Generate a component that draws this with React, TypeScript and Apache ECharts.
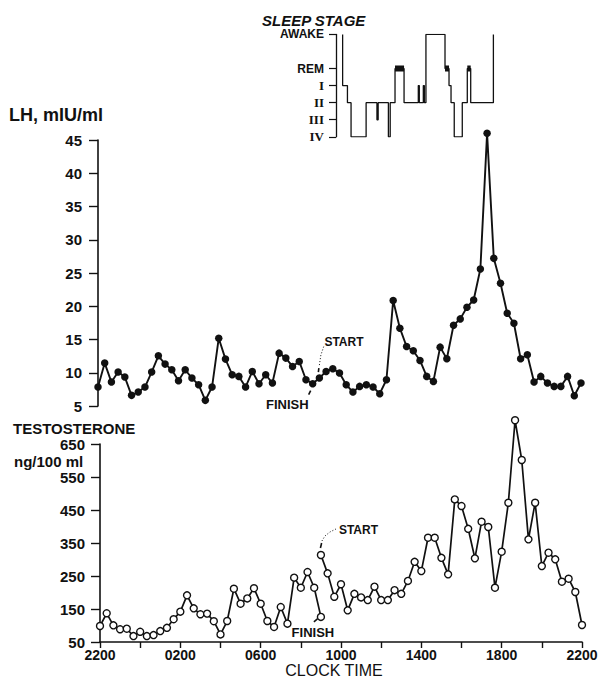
import { useEffect, useRef } from "react";
import * as echarts from "echarts";

const INK = "#111";
const SANS = "'Liberation Sans', Arial, sans-serif";
const SERIF = "'Liberation Serif', 'DejaVu Serif', serif";

// Hours after 2200; samples every 20 min
const SAMPLE_STEP_H = 1 / 3;
const xTickLabels = ["2200", "", "0200", "", "0600", "", "1000", "", "1400", "", "1800", "", "2200"];

// LH (mIU/ml), 73 samples 2200 -> 2200
const lhValues = [
  7.85, 11.45, 8.6, 10.1, 9.35, 6.6, 7.1, 7.85, 10.1, 12.55,
  11.3, 10.45, 8.8, 10.45, 9.2, 8.2, 5.85, 7.85, 15.2, 12.05,
  9.7, 9.45, 7.85, 10.2, 8.35, 9.7, 8.45, 12.95, 12.2, 10.95,
  11.7, 8.95, 8.35, 9.2, 10.2, 10.6, 9.95, 8.2, 7.1, 7.95,
  8.2, 7.85, 6.85, 8.95, 20.85, 16.7, 13.95, 13.3, 11.85, 9.45,
  8.7, 13.85, 12.1, 17.15, 18.1, 19.85, 20.95, 25.6, 46, 27.2,
  23.45, 18.95, 17.45, 12.1, 12.7, 8.6, 9.45, 8.45, 7.95, 7.95,
  9.45, 6.55, 8.45,
];
const lhStartIndex = 33;
const lhFinishIndex = 32;

// Testosterone (ng/100 ml): until FINISH (samples 0..33), from START (samples 33..72)
const tFinishPart = [
  98.5, 137, 100.6, 88.5, 90.3, 68, 81, 68, 71, 83,
  93, 119, 142, 191.5, 152, 134, 136, 113, 73, 113.6,
  211.5, 166, 182, 213, 166, 113.6, 95.5, 156, 105.5, 245,
  214.5, 262, 214.5, 126,
];
const tStartIndex = 33;
const tStartPart = [
  313.6, 258, 187, 225, 146, 196, 185, 177, 217.6, 177,
  177, 207, 196, 235, 293, 265, 366, 366, 305, 255,
  482, 462, 393, 303.6, 414.5, 398.5, 214.5, 323.6, 472, 722,
  601.5, 361, 472, 280, 320.6, 300.5, 232.7, 241.8, 201.5, 101.5,
];

// Sleep stages: stage that begins at each time (hours after 2200)
const stageLabels = ["IV", "III", "II", "I", "REM", "", "AWAKE"];
const sleepTimes = [12.13, 12.13, 12.37, 12.55, 13.3, 13.84, 13.9, 14.41, 14.5, 14.74, 15.19, 15.9, 15.95, 16.15, 16.2, 16.28, 17.23, 17.43, 17.53, 17.69, 18.09, 18.34, 18.51, 19.64];
const sleepStages = [6, 3, 2, 0, 2, 1, 2, 0, 2, 4, 2, 3, 2, 3, 2, 6, 4, 3, 2, 0, 2, 4, 2, 6];
const remSegments = [[14.74, 15.19], [17.23, 17.43], [18.34, 18.51]];

export default function App() {
  const ref = useRef<HTMLDivElement>(null);
  useEffect(() => {
    if (!ref.current) return;
    const chart = echarts.init(ref.current, null, { renderer: "svg" });
    const lhData = lhValues.map((v, i) => [i * SAMPLE_STEP_H, v]);
    const tA = tFinishPart.map((v, i) => [i * SAMPLE_STEP_H, v]);
    const tB = tStartPart.map((v, i) => [(tStartIndex + i) * SAMPLE_STEP_H, v]);
    // explicit hypnogram steps: hold previous stage until the change time, then jump
    const sleepData: number[][] = [];
    sleepTimes.forEach((t, i) => {
      if (i > 0) sleepData.push([t, sleepStages[i - 1]]);
      sleepData.push([t, sleepStages[i]]);
    });

    const axisLabelStyle = { color: INK, fontFamily: SANS, fontWeight: "bold" as const, fontSize: 15, lineHeight: 12 };

    const option: any = {
      animation: false,
      backgroundColor: "#fff",
      grid: [
        { left: 336, top: 34.4, width: 160, height: 102.4 },
        { left: 98, top: 140, width: 483, height: 266 },
        { left: 100, top: 444, width: 482, height: 198 },
      ],
      xAxis: [
        { gridIndex: 0, type: "value", min: 11.8, max: 19.77, show: false },
        { gridIndex: 1, type: "value", min: 0, max: 24, show: false },
        {
          gridIndex: 2, type: "value", min: 0, max: 24, interval: 2,
          axisLine: { show: true, lineStyle: { color: INK, width: 1.6 } },
          axisTick: { show: true, length: 6, lineStyle: { color: INK, width: 1.4 } },
          splitLine: { show: false },
          axisLabel: {
            ...axisLabelStyle, fontSize: 14, margin: 7, showMinLabel: true, showMaxLabel: true,
            formatter: (v: number) => xTickLabels[Math.round(v / 2)] ?? "",
          },
        },
      ],
      yAxis: [
        {
          gridIndex: 0, type: "category", data: stageLabels, boundaryGap: false,
          axisLine: { show: true, lineStyle: { color: INK, width: 1.3 } },
          axisTick: { show: true, length: 7, interval: (_i: number, v: string) => v !== "", lineStyle: { color: INK, width: 1.2 } },
          splitLine: { show: false },
          axisLabel: {
            interval: 0, margin: 12, color: INK,
            formatter: (v: string) => (v === "" ? "" : v === "AWAKE" || v === "REM" ? `{s|${v}}` : `{r|${v}}`),
            rich: {
              s: { fontFamily: SANS, fontWeight: "bold", fontSize: 12, color: INK },
              r: { fontFamily: SERIF, fontWeight: "bold", fontSize: 13, color: INK },
            },
          },
        },
        {
          gridIndex: 1, type: "value", min: 5, max: 45, interval: 5,
          axisLine: { show: true, lineStyle: { color: INK, width: 1.6 } },
          axisTick: { show: true, length: 9, lineStyle: { color: INK, width: 1.4 } },
          splitLine: { show: false },
          axisLabel: { ...axisLabelStyle, margin: 16, showMinLabel: true, showMaxLabel: true },
        },
        {
          gridIndex: 2, type: "value", min: 50, max: 650, interval: 100,
          axisLine: { show: true, lineStyle: { color: INK, width: 1.6 } },
          axisTick: { show: true, length: 9, lineStyle: { color: INK, width: 1.4 } },
          splitLine: { show: false },
          axisLabel: { ...axisLabelStyle, margin: 15, showMinLabel: true, showMaxLabel: true },
        },
      ],
      series: [
        {
          type: "line", xAxisIndex: 0, yAxisIndex: 0, data: sleepData,
          symbol: "none", lineStyle: { color: INK, width: 1.3 }, clip: false,
        },
        ...remSegments.map((seg) => ({
          type: "line", xAxisIndex: 0, yAxisIndex: 0, data: [[seg[0], 4], [seg[1], 4]],
          symbol: "none", lineStyle: { color: INK, width: 6 }, clip: false,
        })),
        {
          type: "line", xAxisIndex: 1, yAxisIndex: 1, data: lhData, clip: false,
          symbol: "circle", symbolSize: 7.5, itemStyle: { color: INK },
          lineStyle: { color: INK, width: 1.9 },
        },
        ...[tA, tB].map((d) => ({
          type: "line", xAxisIndex: 2, yAxisIndex: 2, data: d, clip: false,
          symbol: "circle", symbolSize: 7, itemStyle: { color: "#fff", borderColor: INK, borderWidth: 1.4 },
          lineStyle: { color: INK, width: 1.7 },
        })),
      ],
    };
    chart.setOption(option);

    const px = (g: number, x: number, y: number) =>
      chart.convertToPixel({ xAxisIndex: g, yAxisIndex: g }, [x, y]) as number[];
    const lhS = px(1, lhStartIndex * SAMPLE_STEP_H, lhValues[lhStartIndex]);
    const lhF = px(1, lhFinishIndex * SAMPLE_STEP_H, lhValues[lhFinishIndex]);
    const tS = px(2, tStartIndex * SAMPLE_STEP_H, tStartPart[0]);
    const tF = px(2, tStartIndex * SAMPLE_STEP_H, tFinishPart[tFinishPart.length - 1]);

    const txt = (text: string, x: number, y: number, size: number, extra: any = {}) => ({
      type: "text", x, y, z: 10,
      style: { text, fontSize: size, fontFamily: SANS, fontWeight: "bold", fill: INK, align: "left", verticalAlign: "middle", ...extra },
    });
    const seg = (pts: number[][], dash?: number[], w = 1.2) => ({
      type: "polyline", z: 10,
      shape: { points: pts },
      style: { stroke: INK, lineWidth: w, fill: null, lineDash: dash },
    });

    chart.setOption({
      graphic: [
        txt("SLEEP STAGE", 262, 20, 15, { fontStyle: "italic" }),
        txt("LH, mIU/ml", 9, 115, 18),
        txt("TESTOSTERONE", 13, 428, 15, { lineHeight: 12 }),
        txt("ng/100 ml", 14, 461, 15, { lineHeight: 12 }),
        txt("CLOCK TIME", 334, 677, 16, { align: "center", verticalAlign: "bottom", fontWeight: "normal", lineHeight: 14 }),
        // LH START / FINISH
        txt("START", lhS[0] + 5, lhS[1] - 36, 12),
        seg([[lhS[0] - 1, lhS[1] - 6], [lhS[0] - 0.5, lhS[1] - 10]], undefined, 1.6),
        seg([[lhS[0], lhS[1] - 13], [lhS[0] + 1.5, lhS[1] - 23], [lhS[0] + 4.5, lhS[1] - 32]], [1, 2], 1),
        txt("FINISH", lhF[0] - 4, lhF[1] + 21, 13, { align: "right" }),
        seg([[lhF[0] - 4, lhF[1] + 11], [lhF[0] - 2, lhF[1] + 7]], undefined, 1.6),
        // Testosterone START / FINISH
        txt("START", tS[0] + 18, tS[1] - 25, 12),
        seg([[tS[0] - 0.5, tS[1] - 7], [tS[0] + 0.7, tS[1] - 12]], undefined, 1.6),
        seg([[tS[0] + 1, tS[1] - 14], [tS[0] + 4, tS[1] - 19], [tS[0] + 9, tS[1] - 23], [tS[0] + 15, tS[1] - 26]], [1, 2], 1),
        txt("FINISH", tF[0] - 8, tF[1] + 16, 13, { align: "center" }),
        seg([[tF[0] - 7, tF[1] + 5], [tF[0] - 3.5, tF[1] + 2]], undefined, 1.6),
      ],
    });

    return () => chart.dispose();
  }, []);

  return (
    <div
      ref={ref}
      style={{ position: "fixed", left: 0, top: 0, width: 602, height: 678, background: "#fff" }}
    />
  );
}
